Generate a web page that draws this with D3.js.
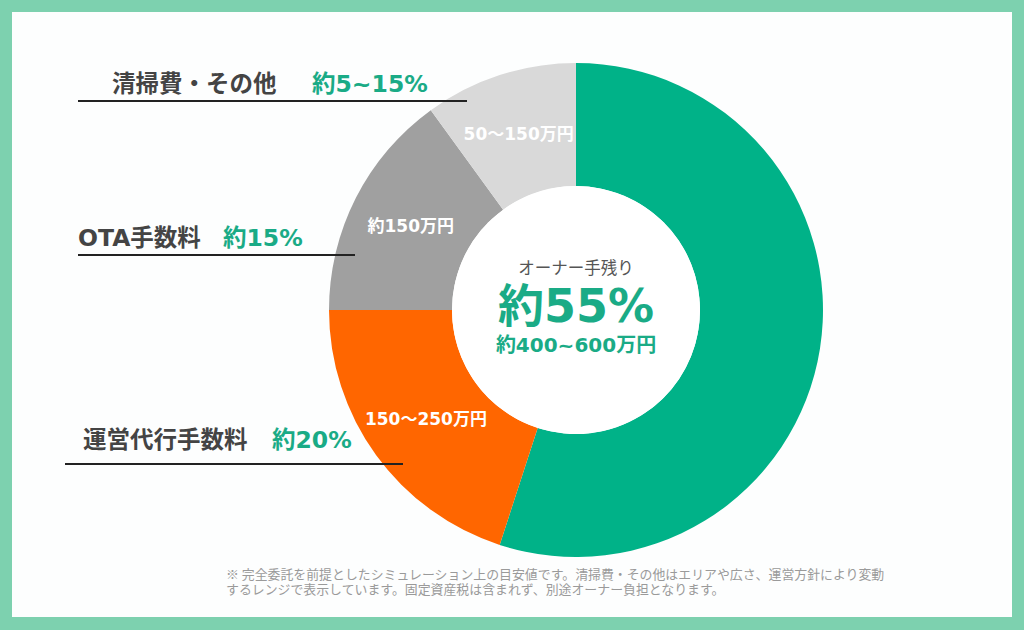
<!DOCTYPE html>
<html>
<head>
<meta charset="utf-8">
<script src="https://cdn.jsdelivr.net/npm/d3@7"></script>
<style>
  body { margin: 0; background: #fff; }
  text { font-family: "Noto Sans CJK JP", "Noto Sans", sans-serif; }
  text.wide { font-family: "DejaVu Sans", "Noto Sans CJK JP", sans-serif; }
</style>
</head>
<body>
<div id="app"></div>
<script>
const width = 1024,
    height = 630;

// slices, clockwise from 12 o'clock
const categories = ["オーナー手残り", "運営代行手数料", "OTA手数料", "清掃費・その他"];
const shares = [55, 20, 15, 10];
const amountLabels = ["", "150〜250万円", "約150万円", "50〜150万円"];
const pctLabels = ["約55%", "約20%", "約15%", "約5~15%"];
const colors = ["#00b288", "#ff6600", "#a0a0a0", "#d9d9d9"];

const centerTitle = "オーナー手残り";
const centerAmount = "約400~600万円";

const notes = [
    "※ 完全委託を前提としたシミュレーション上の目安値です。清掃費・その他はエリアや広さ、運営方針により変動",
    "するレンジで表示しています。固定資産税は含まれず、別途オーナー負担となります。"
];

const cx = 576, cy = 310, outerR = 247, innerR = 124;
const green = "#1aab86";

const svg = d3.select("#app")
    .append("svg")
    .attr("width", width)
    .attr("height", height);

// frame
svg.append("rect")
    .attr("width", width).attr("height", height)
    .attr("fill", "#7dd1af");
svg.append("rect")
    .attr("x", 12).attr("y", 12)
    .attr("width", width - 24).attr("height", height - 25)
    .attr("fill", "#fdfefe");

const pie = d3.pie().sort(null).value(d => d)(shares);
const arc = d3.arc().innerRadius(innerR).outerRadius(outerR);

const g = svg.append("g").attr("transform", `translate(${cx},${cy})`);

g.selectAll("path.slice")
    .data(pie).enter()
    .append("path")
    .attr("class", "slice")
    .attr("d", arc)
    .attr("fill", (_, i) => colors[i]);

g.append("circle").attr("r", innerR).attr("fill", "#fff");

g.selectAll("text.amount")
    .data(pie).enter()
    .append("text")
    .attr("class", "amount wide")
    .attr("transform", d => `translate(${arc.centroid(d)})`)
    .attr("text-anchor", "middle")
    .attr("dy", "0.35em")
    .attr("fill", "#fff")
    .attr("font-size", 17)
    .attr("font-weight", "bold")
    .text((_, i) => amountLabels[i]);

// center text
g.append("text")
    .attr("y", -36).attr("text-anchor", "middle")
    .attr("fill", "#555").attr("font-size", 16.5)
    .text(centerTitle);
g.append("text")
    .attr("class", "wide")
    .attr("y", 12).attr("text-anchor", "middle")
    .attr("fill", green).attr("font-size", 46).attr("font-weight", "bold")
    .text(pctLabels[0]);
g.append("text")
    .attr("class", "wide")
    .attr("y", 42).attr("text-anchor", "middle")
    .attr("fill", green).attr("font-size", 20).attr("font-weight", "bold")
    .text(centerAmount);

// side legends with underline
const legendPos = [
    null,
    {x: 83, px: 272, y: 448, x1: 65, x2: 403, ly: 464},
    {x: 78, px: 223, y: 246, x1: 78, x2: 355, ly: 255},
    {x: 112, px: 312, y: 92, x1: 78, x2: 467, ly: 101}
];

legendPos.forEach((p, i) => {
    if (!p) return;
    svg.append("line")
        .attr("x1", p.x1).attr("x2", p.x2)
        .attr("y1", p.ly).attr("y2", p.ly)
        .attr("stroke", "#222").attr("stroke-width", 2);
    svg.append("text")
        .attr("class", "wide")
        .attr("x", p.x).attr("y", p.y)
        .attr("fill", "#444").attr("font-size", 23.5).attr("font-weight", "bold")
        .text(categories[i]);
    svg.append("text")
        .attr("class", "wide")
        .attr("x", p.px).attr("y", p.y)
        .attr("fill", green).attr("font-size", 23.5).attr("font-weight", "bold")
        .text(pctLabels[i]);
});

// footnote
svg.selectAll("text.note")
    .data(notes).enter()
    .append("text")
    .attr("class", "note")
    .attr("x", 226)
    .attr("y", (_, i) => 579 + i * 15)
    .attr("fill", "#9a9a9a")
    .attr("font-size", 12.9)
    .text(d => d);
</script>
</body>
</html>
